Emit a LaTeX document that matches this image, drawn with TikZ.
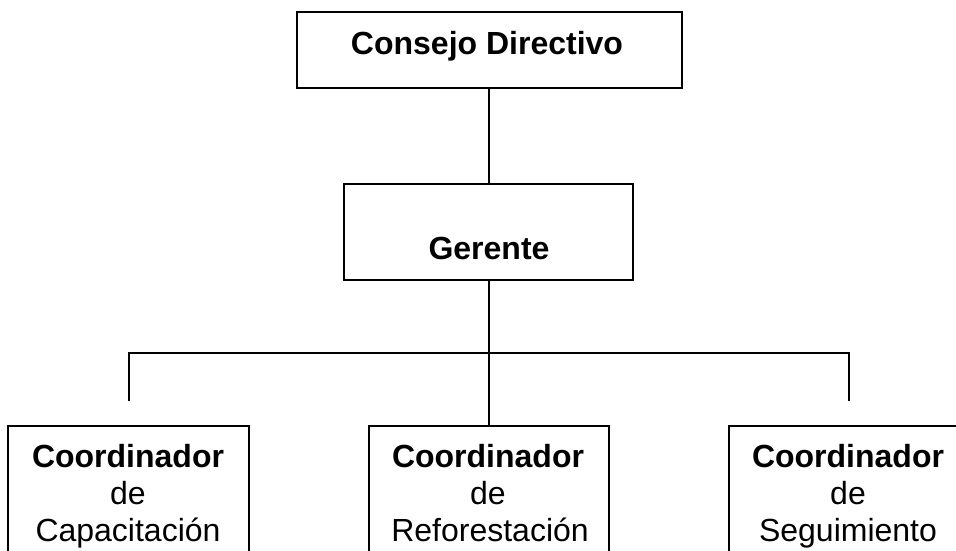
\documentclass[tikz,border=0pt]{standalone}
\usepackage{fontspec}
\setmainfont{Liberation Sans}
\begin{document}
\begin{tikzpicture}[x=1pt,y=-1pt,
  orgbox/.style={draw=black, line width=1.2pt, inner sep=0pt, fill=none},
  conn/.style={draw=black, line width=1.2pt},
  lbl/.style={anchor=base, inner sep=0pt, font=\fontsize{32}{37}\selectfont},
  blbl/.style={lbl, font=\fontsize{32}{37}\selectfont\bfseries}]
\useasboundingbox (0,0) rectangle (956,550);
\fill[white] (0,0) rectangle (956,550);
% boxes
\node[orgbox, minimum width=385pt, minimum height=76pt] (cd) at (489.5,50) {};
\node[orgbox, minimum width=289pt, minimum height=96pt] (ge) at (488.5,232) {};
\node[orgbox, minimum width=241pt, minimum height=160pt] (c1) at (128.5,506) {};
\node[orgbox, minimum width=240pt, minimum height=160pt] (c2) at (489,506) {};
\node[orgbox, minimum width=240pt, minimum height=160pt] (c3) at (849,506) {};
% texts
\node[blbl] (tcd) at (487,54) {Consejo Directivo};
\node[blbl] (tge) at (489,259) {Gerente};
\node[blbl] (t1a) at (128,467) {Coordinador};
\node[lbl] (t1b) at (128,504) {de};
\node[lbl] (t1c) at (128,541) {Capacitación};
\node[blbl] (t2a) at (488,467) {Coordinador};
\node[lbl] (t2b) at (488,504) {de};
\node[lbl] (t2c) at (490,541) {Reforestación};
\node[blbl] (t3a) at (848,467) {Coordinador};
\node[lbl] (t3b) at (848,504) {de};
\node[lbl] (t3c) at (848,541) {Seguimiento};
% connectors
\coordinate (jl) at (129,401);
\coordinate (jr) at (849,401);
\coordinate (jm) at (489,353);
\draw[conn] (cd.south -| 489,0) -- (ge.north -| 489,0);
\draw[conn] (ge.south -| 489,0) -- (c2.north);
\draw[conn] (jl) |- (jm) -| (jr);
\end{tikzpicture}
\end{document}
